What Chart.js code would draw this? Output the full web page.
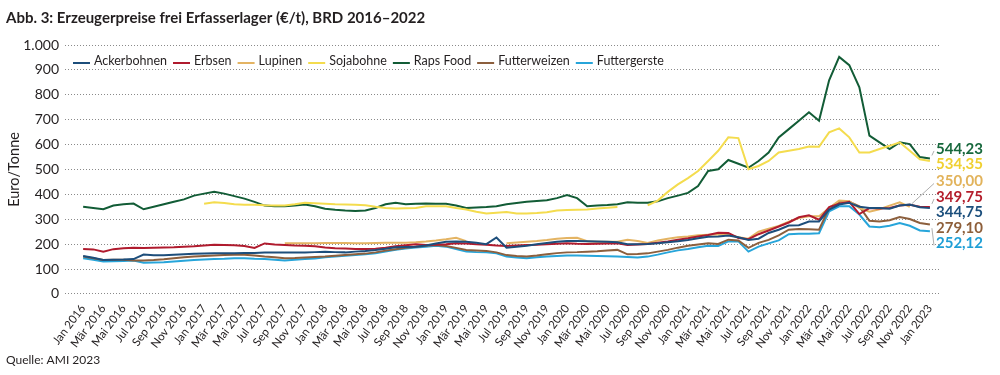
<!DOCTYPE html>
<html>
<head>
<meta charset="utf-8">
<script src="https://cdn.jsdelivr.net/npm/chart.js@4.4.1/dist/chart.umd.min.js"></script>
<style>
  html, body { margin: 0; padding: 0; background: #fff; }
  #wrap { width: 1000px; height: 375px; }
</style>
</head>
<body>
<div id="wrap"><canvas id="priceChart"></canvas></div>
<script>

// month labels Jan 2016 .. Jan 2023
const monthNames = ['Jan','Feb','Mär','Apr','Mai','Jun','Jul','Aug','Sep','Okt','Nov','Dez'];
const years = [2016, 2017, 2018, 2019, 2020, 2021, 2022];
const lastLabel = 'Jan 2023';

const seriesNames = ['Ackerbohnen','Erbsen','Lupinen','Sojabohne','Raps Food','Futterweizen','Futtergerste'];

const ackerbohnen = [
  152,145,136,137,138,140,158,155,155,157,159,161,
  162,163,163,163,164,164,166,166,166,166,166,168,
  170,168,167,170,173,177,182,188,189,190,195,203,
  210,211,210,206,200,227,186,190,194,200,205,210,
  213,213,212,211,210,208,200,200,201,204,208,212,
  217,224,230,231,235,228,217,222,245,258,275,276,
  291,291,339,359,366,350,345,345,342,355,359,348,
  344.75
];
const erbsen = [
  181,179,170,180,184,186,185,186,187,188,190,192,
  195,198,197,196,193,185,203,199,197,195,194,192,
  187,184,183,181,181,182,186,192,196,200,197,198,
  200,204,203,200,198,195,193,195,197,198,200,202,
  204,202,201,202,203,204,197,199,201,206,211,218,
  224,231,237,246,245,225,220,240,255,271,287,308,
  316,298,349,362,370,321,345,343,345,355,358,350,
  349.75
];
const lupinen = [
  null,null,null,null,null,null,null,null,null,null,null,null,
  null,null,null,null,null,null,null,null,204,204,204,204,
  205,205,205,204,204,205,206,206,206,208,211,215,
  220,226,212,null,null,null,204,207,210,213,217,222,
  225,226,212,210,210,210,218,213,205,215,222,228,
  231,236,238,240,238,228,222,250,262,273,290,305,
  312,312,345,375,372,345,330,340,355,368,350,null,
  null
];
const sojabohne = [
  null,null,null,null,null,null,null,null,null,null,null,null,
  362,368,365,360,358,358,356,355,355,360,366,364,
  362,360,359,358,356,350,345,343,344,345,352,352,
  352,345,339,330,323,326,329,323,323,325,328,335,
  337,338,339,343,346,349,null,null,356,375,410,440,
  465,494,534,575,629,626,501,514,534,568,575,582,
  592,591,649,665,629,568,568,582,595,609,575,541,
  534.35
];
const rapsFood = [
  350,345,340,355,360,363,340,350,360,370,380,395,
  403,410,403,393,383,370,355,352,352,355,359,352,
  342,338,335,333,335,345,360,366,360,362,363,362,
  362,355,345,347,349,352,360,365,370,373,376,385,
  397,385,352,355,357,360,368,366,366,372,385,395,
  406,433,494,501,538,523,507,534,568,629,662,696,
  730,696,858,952,919,830,636,609,582,609,602,550,
  544.23
];
const futterweizen = [
  150,143,136,137,137,134,134,136,139,143,147,150,
  152,154,156,157,157,154,150,147,143,144,146,148,
  150,153,156,159,162,167,174,180,186,190,194,197,
  193,185,177,175,173,167,156,152,150,154,159,164,
  167,168,170,172,175,177,159,160,163,170,177,186,
  194,199,204,201,218,215,185,205,217,235,258,261,
  260,258,345,370,370,352,294,291,296,309,301,285,
  279.10
];
const futtergerste = [
  143,137,130,131,132,134,125,126,127,130,133,136,
  138,140,141,143,143,141,140,137,134,137,140,142,
  147,150,153,156,159,163,170,177,183,187,190,194,
  190,180,170,168,167,163,150,146,143,147,150,152,
  154,154,153,152,151,150,148,146,150,158,167,175,
  181,188,194,193,211,211,170,190,203,215,240,242,
  242,244,332,352,352,319,271,268,274,285,274,255,
  252.12
];

const lineColors = ['#1d4e7b','#b01b2e','#e4b463','#f4dc4e','#125c36','#8c5f3d','#27a5da'];
const labelColors = ['#1c4f7c','#b41e2c','#e2b35b','#f0d030','#17683c','#8e5f3a','#1f9fd6'];

let monthLabels = [];
years.forEach(yr => {
  monthNames.forEach(m => monthLabels.push(m + ' ' + yr));
});
monthLabels.push(lastLabel);

const allSeries = [ackerbohnen, erbsen, lupinen, sojabohne, rapsFood, futterweizen, futtergerste];

function deNumber(v, digits){
  let s = v.toFixed(digits).replace('.', ',');
  if (digits === 0 && v >= 1000) s = s.slice(0, -3) + '.' + s.slice(-3);
  return s;
}

let dsets = allSeries.map((arr, k) => ({
  label: seriesNames[k],
  data: arr.map((v, i) => ({x: i, y: v})),
  borderColor: lineColors[k],
  backgroundColor: lineColors[k],
  borderWidth: 2,
  pointRadius: 0,
  tension: 0,
  spanGaps: false,
  fill: false
}));

// one-row legend drawn inside the plot, under the 1.000 line
const innerLegend = {
  id: 'innerLegend',
  afterDraw(chart){
    const {ctx, chartArea} = chart;
    let x = chartArea.left + 8;
    const y = chartArea.top + 16;
    ctx.save();
    ctx.font = '12.5px Lato';
    ctx.textBaseline = 'middle';
    ctx.textAlign = 'left';
    chart.data.datasets.forEach(ds => {
      ctx.strokeStyle = ds.borderColor;
      ctx.lineWidth = 2;
      ctx.beginPath();
      ctx.moveTo(x, y + 2);
      ctx.lineTo(x + 17, y + 2);
      ctx.stroke();
      x += 21;
      ctx.fillStyle = '#231f20';
      ctx.fillText(ds.label, x, y);
      x += ctx.measureText(ds.label).width + 6;
    });
    ctx.restore();
  }
};

// value labels at the right end, pushed apart so they don't overlap
const endLabels = {
  id: 'endLabels',
  afterDatasetsDraw(chart){
    const {ctx, chartArea} = chart;
    const xs = chart.scales.x, ys = chart.scales.y;
    let items = [];
    chart.data.datasets.forEach((ds, k) => {
      let j = ds.data.length - 1;
      while (j >= 0 && ds.data[j].y == null) j--;
      const v = ds.data[j].y;
      const py = ys.getPixelForValue(v);
      items.push({v: v, px: xs.getPixelForValue(j), py: py, ty: py - 3, color: labelColors[k]});
    });
    items.sort((a, b) => a.py - b.py || b.v - a.v);
    const gap = 15.5;
    for (let it = 0; it < 80; it++) {
      for (let i = 1; i < items.length; i++) {
        const d = items[i].ty - items[i-1].ty;
        if (d < gap) {
          const s = (gap - d) / 2;
          items[i].ty += s;
          items[i-1].ty -= s;
        }
      }
    }
    const lx = chartArea.right - 4;
    ctx.save();
    items.forEach(it => {
      if (Math.abs(it.ty - it.py) > 9) {
        ctx.strokeStyle = '#9b9b9b';
        ctx.lineWidth = 0.8;
        ctx.beginPath();
        ctx.moveTo(it.px + 2, it.py - 3);
        ctx.lineTo(lx - 2, it.ty + 2);
        ctx.stroke();
      }
      ctx.fillStyle = it.color;
      ctx.font = 'bold 15px Lato';
      ctx.textAlign = 'left';
      ctx.textBaseline = 'middle';
      ctx.fillText(deNumber(it.v, 2), lx, it.ty);
    });
    ctx.restore();
  }
};

Chart.defaults.font.family = 'Lato';
Chart.defaults.color = '#231f20';

new Chart(
  document.getElementById('priceChart'),
  {
    type: 'line',
    data: { datasets: dsets },
    plugins: [endLabels, innerLegend],
    options: {
      responsive: true,
      maintainAspectRatio: false,
      animation: false,
      layout: { padding: { left: 6, right: 60, top: 4, bottom: 0 } },
      plugins: {
        title: {
          display: true,
          text: 'Abb. 3: Erzeugerpreise frei Erfasserlager (€/t), BRD 2016–2022',
          align: 'start',
          font: { size: 15, weight: 'bold' },
          padding: { top: 5, bottom: 18 }
        },
        subtitle: {
          display: true,
          position: 'bottom',
          align: 'start',
          text: 'Quelle: AMI 2023',
          font: { size: 12 },
          padding: { top: 2, bottom: 8 }
        },
        legend: { display: false },
        tooltip: { enabled: false }
      },
      scales: {
        x: {
          type: 'linear',
          min: -1.8,
          max: 85,
          grid: { display: false },
          border: { display: false },
          afterBuildTicks: (scale) => {
            let t = [];
            for (let i = 0; i < monthLabels.length; i += 2) t.push({value: i});
            scale.ticks = t;
          },
          ticks: {
            autoSkip: false,
            minRotation: 53,
            maxRotation: 53,
            padding: 0,
            font: { size: 11.5 },
            callback: (v) => monthLabels[v]
          }
        },
        y: {
          min: 0,
          max: 1000,
          afterFit: (scale) => { scale.width = 59; },
          ticks: {
            stepSize: 100,
            padding: 6,
            font: { size: 14 },
            callback: (v) => deNumber(v, 0)
          },
          grid: { color: '#8a8a8a', lineWidth: 1, drawTicks: false },
          border: { display: false, dash: [1, 2] },
          title: {
            display: true,
            text: 'Euro/Tonne',
            font: { size: 14.5 },
            padding: { top: 0, bottom: 0 }
          }
        }
      }
    }
  }
);

</script>
</body>
</html>
